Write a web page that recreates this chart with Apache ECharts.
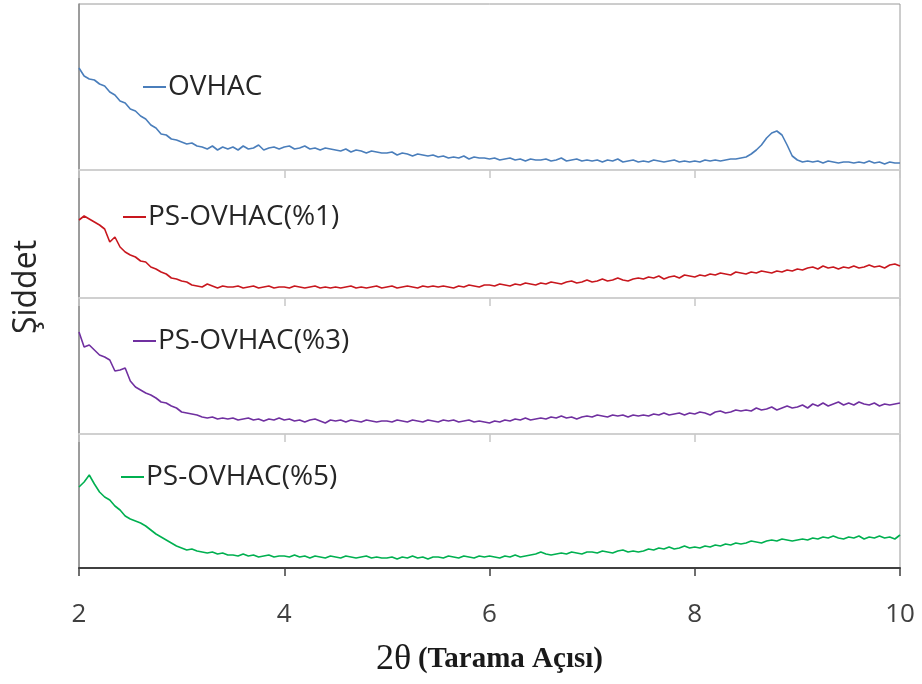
<!DOCTYPE html>
<html>
<head>
<meta charset="utf-8">
<script src="https://cdn.jsdelivr.net/npm/echarts@6/dist/echarts.min.js"></script>
<style>
  html, body { margin: 0; padding: 0; background: #fff; }
  #chart { width: 922px; height: 684px; }
</style>
</head>
<body>
<div id="chart"></div>
<script>
// scan: 2θ from 2 to 10, step 0.05 (161 points)
const scanStart = 2;
const scanStep = 0.05;
const xTicks = [2, 4, 6, 8, 10];

const seriesNames = ['OVHAC', 'PS-OVHAC(%1)', 'PS-OVHAC(%3)', 'PS-OVHAC(%5)'];
const seriesColors = ['#4A7EBB', '#C8171E', '#7030A0', '#00B050'];

// intensity (a.u.)
const ovhac = [
    102, 94, 91, 90, 86, 84, 78, 75, 69, 67,
    61, 59, 54, 51, 45, 42, 36, 35, 31, 30,
    28, 26, 27, 24, 23, 21, 24, 20, 23, 21,
    23, 20, 24, 21, 22, 25, 20, 22, 23, 21,
    23, 24, 21, 22, 24, 21, 22, 20, 22, 21,
    20, 19, 21, 18, 20, 19, 17, 19, 18, 17,
    17, 18, 15, 17, 16, 14, 16, 15, 14, 15,
    13, 14, 12, 13, 12, 14, 11, 13, 12, 12,
    11, 12, 10, 11, 12, 10, 11, 9, 11, 10,
    10, 11, 9, 10, 12, 9, 10, 11, 9, 10,
    9, 10, 8, 10, 9, 11, 8, 9, 10, 8,
    9, 8, 10, 9, 8, 9, 10, 8, 9, 8,
    9, 8, 10, 9, 10, 9, 10, 11, 11, 12,
    13, 16, 20, 25, 32, 37, 39, 35, 25, 14,
    10, 8, 9, 8, 9, 7, 9, 8, 7, 8,
    8, 7, 8, 7, 9, 7, 8, 6, 8, 7, 7
];
const psOvhac1 = [
    78, 82, 79, 76, 73, 69, 56, 61, 51, 46,
    43, 41, 37, 36, 31, 29, 26, 24, 20, 19,
    17, 16, 13, 12, 11, 14, 12, 10, 12, 11,
    11, 12, 10, 11, 12, 10, 11, 12, 10, 11,
    11, 10, 12, 11, 10, 11, 12, 10, 11, 10,
    11, 10, 11, 12, 10, 11, 10, 11, 12, 10,
    11, 12, 10, 11, 12, 11, 10, 12, 11, 12,
    11, 12, 11, 10, 12, 11, 13, 12, 11, 13,
    13, 12, 14, 13, 12, 14, 13, 15, 14, 13,
    15, 14, 16, 15, 14, 16, 17, 15, 16, 18,
    16, 17, 19, 17, 18, 20, 18, 17, 19, 20,
    19, 21, 20, 22, 19, 21, 22, 20, 23, 22,
    21, 23, 22, 24, 23, 25, 24, 23, 26, 25,
    24, 26, 25, 27, 26, 25, 27, 26, 28, 27,
    29, 28, 30, 31, 29, 32, 30, 31, 29, 31,
    30, 32, 30, 31, 33, 31, 32, 30, 33, 34, 32
];
const psOvhac3 = [
    102, 87, 89, 84, 79, 77, 74, 63, 64, 66,
    53, 47, 44, 41, 39, 36, 32, 31, 28, 26,
    22, 21, 20, 19, 17, 16, 17, 15, 16, 15,
    16, 14, 15, 16, 14, 15, 13, 15, 14, 16,
    14, 15, 13, 14, 12, 14, 15, 13, 11, 14,
    13, 14, 12, 14, 13, 12, 14, 13, 12, 13,
    13, 12, 14, 13, 12, 14, 13, 12, 14, 13,
    12, 14, 13, 14, 12, 13, 14, 12, 13, 12,
    11, 13, 12, 14, 13, 15, 14, 16, 14, 15,
    16, 15, 17, 16, 18, 16, 17, 15, 17, 18,
    17, 19, 18, 17, 19, 18, 19, 17, 19, 18,
    19, 18, 20, 19, 21, 19, 20, 21, 19, 21,
    20, 22, 21, 19, 22, 23, 21, 22, 24, 23,
    24, 23, 26, 24, 25, 27, 24, 26, 28, 26,
    27, 29, 26, 30, 28, 31, 28, 30, 32, 29,
    31, 29, 32, 30, 29, 31, 28, 30, 29, 30, 31
];
const psOvhac5 = [
    81, 86, 93, 84, 76, 71, 68, 62, 58, 52,
    49, 47, 45, 42, 38, 34, 31, 28, 25, 22,
    20, 18, 19, 17, 16, 15, 16, 14, 15, 13,
    13, 12, 14, 12, 13, 11, 12, 13, 11, 12,
    12, 11, 13, 11, 12, 10, 12, 11, 10, 12,
    11, 10, 12, 11, 10, 11, 12, 10, 11, 10,
    10, 11, 9, 11, 10, 12, 10, 11, 9, 11,
    11, 10, 12, 11, 10, 12, 11, 10, 12, 11,
    12, 11, 10, 12, 11, 13, 11, 12, 13, 14,
    16, 14, 13, 14, 15, 14, 16, 15, 14, 16,
    16, 15, 17, 16, 15, 17, 18, 16, 17, 16,
    17, 19, 18, 20, 19, 21, 19, 20, 22, 20,
    21, 20, 22, 21, 23, 22, 24, 23, 25, 24,
    25, 27, 26, 25, 27, 28, 27, 29, 28, 27,
    28, 29, 28, 30, 29, 31, 30, 32, 30, 29,
    31, 30, 32, 29, 31, 30, 32, 30, 31, 29, 33
];
const seriesValues = [ovhac, psOvhac1, psOvhac3, psOvhac5];
// y range of each panel (a.u.)
const panelMax = [166, 128, 136, 134];

// panel layout (px)
const panelTop = [4, 170, 298, 434];
const panelHeight = [166, 128, 136, 134];
const legendPos = [[143, 73], [123, 203], [133, 327], [121, 463]];

function init() {
    const chart = echarts.init(document.getElementById('chart'), null, {renderer: 'canvas'});
    const last = seriesNames.length - 1;
    const grids = [], xAxes = [], yAxes = [], series = [], legends = [];

    seriesNames.forEach((name, i) => {
        grids.push({
            left: 79, right: 22, top: panelTop[i], height: panelHeight[i],
            outerBoundsMode: 'none', containLabel: false,
            show: true, borderColor: '#9a9a9a', borderWidth: 1
        });
        xAxes.push({
            type: 'value', gridIndex: i, min: 2, max: 10, interval: 2,
            axisLine: {show: true, onZero: false, lineStyle: {color: i === last ? '#404040' : '#d0d0d0', width: 2}},
            axisTick: {show: true, length: 8, lineStyle: {color: i === last ? '#404040' : '#c8c8c8', width: 1.5}},
            axisLabel: {
                show: i === last, margin: 34, color: '#404040',
                fontFamily: 'Open Sans', fontSize: 26
            },
            splitLine: {show: false},
            name: i === last ? '{a|2θ}  {b|(Tarama Açısı)}' : '',
            nameLocation: 'middle', nameGap: 74,
            nameTextStyle: {
                lineHeight: 36,
                rich: {
                    a: {fontFamily: 'Liberation Serif', fontSize: 36, lineHeight: 36, color: '#1a1a1a'},
                    b: {fontFamily: 'Liberation Serif', fontWeight: 'bold', fontSize: 29, lineHeight: 36, color: '#1a1a1a'}
                }
            }
        });
        yAxes.push({
            type: 'value', gridIndex: i, min: 0, max: panelMax[i],
            axisLine: {show: true, lineStyle: {color: '#8c8c8c', width: 1.5}},
            axisTick: {show: false}, axisLabel: {show: false}, splitLine: {show: false}
        });
        series.push({
            name: name, type: 'line', xAxisIndex: i, yAxisIndex: i,
            showSymbol: false, symbol: 'none',
            lineStyle: {color: seriesColors[i], width: 1.6},
            itemStyle: {color: seriesColors[i]},
            data: seriesValues[i].map((v, k) => [scanStart + k * scanStep, v])
        });
        legends.push({
            data: [name], left: legendPos[i][0], top: legendPos[i][1], padding: 0,
            icon: 'rect', itemWidth: 23, itemHeight: 2, selectedMode: false,
            textStyle: {fontFamily: 'Open Sans', fontSize: 28, color: '#262626', padding: [0, 0, 0, -3]}
        });
    });

    chart.setOption({
        animation: false,
        backgroundColor: '#fff',
        grid: grids,
        xAxis: xAxes,
        yAxis: yAxes,
        legend: legends,
        series: series,
        graphic: [{
            type: 'text', x: 27, y: 287, rotation: Math.PI / 2,
            style: {
                text: 'Şiddet', fontFamily: 'Open Sans', fontSize: 32,
                fill: '#262626', align: 'center', verticalAlign: 'middle'
            }
        }]
    });
}

init();
</script>
</body>
</html>
